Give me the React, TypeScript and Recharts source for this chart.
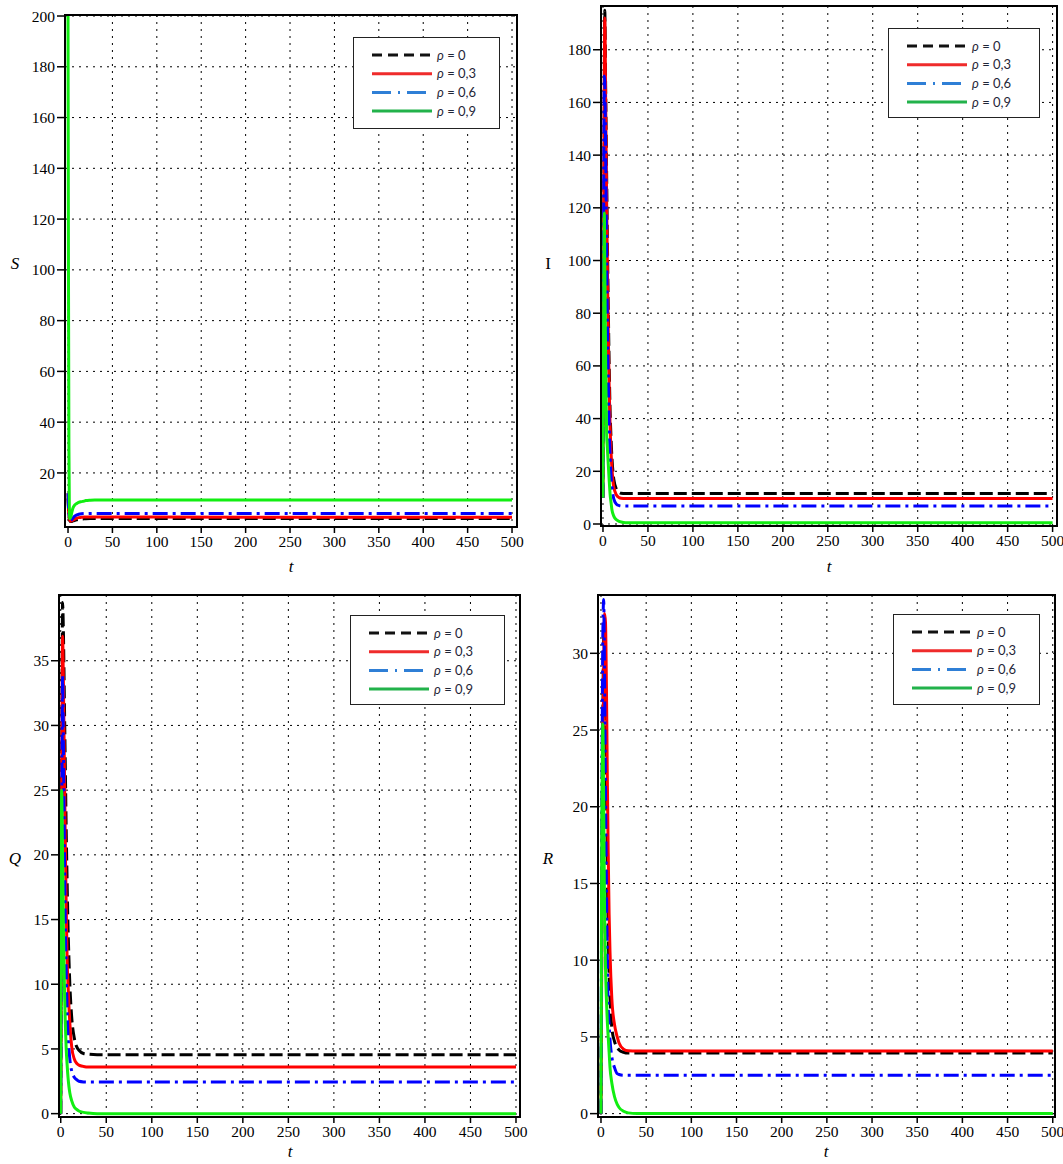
import React from 'react'
import { LineChart, Line, XAxis, YAxis, CartesianGrid } from 'recharts'

// shared time grid (t)
const T = [0, 0.5, 1, 1.5, 2, 3, 4, 5, 6, 7, 8, 9, 10, 12, 15, 18, 20, 25, 30, 40, 100, 500]
const X_TICKS = [0, 50, 100, 150, 200, 250, 300, 350, 400, 450, 500]

// S(t) for rho = 0, 0.3, 0.6, 0.9
const S_RHO0 = [10, 6, 3, 1.8, 1.2, 0.9, 0.9, 1, 1.1, 1.2, 1.35, 1.45, 1.55, 1.7, 1.85, 1.9, 1.95, 2, 2, 2, 2, 2]
const S_RHO3 = [12, 7, 4, 2.5, 1.5, 1, 1.1, 1.3, 1.5, 1.7, 1.9, 2.1, 2.2, 2.4, 2.5, 2.6, 2.6, 2.6, 2.6, 2.6, 2.6, 2.5]
const S_RHO6 = [12, 7, 4, 2.5, 1.6, 1.3, 1.6, 2, 2.4, 2.8, 3.1, 3.3, 3.5, 3.7, 3.9, 4, 4, 4.05, 4.05, 4.05, 4.05, 4]
const S_RHO9 = [200, 100, 30, 6, 2, 2.5, 4, 5.5, 6.5, 7.1, 7.5, 7.8, 8, 8.4, 8.7, 8.9, 9.1, 9.25, 9.3, 9.3, 9.3, 9.3]

// I(t)
const I_RHO0 = [10, 70, 120, 165, 195, 165, 135, 105, 80, 58, 42, 32, 25, 17, 13.2, 12, 11.7, 11.6, 11.6, 11.6, 11.6, 11.6]
const I_RHO3 = [10, 75, 130, 170, 192, 160, 125, 95, 70, 50, 36, 27, 21, 14, 11, 10, 9.8, 9.7, 9.7, 9.7, 9.7, 9.7]
const I_RHO6 = [10, 80, 140, 170, 168, 140, 105, 75, 52, 36, 25, 18, 14, 9.5, 7.5, 7, 6.85, 6.8, 6.8, 6.8, 6.8, 6.8]
const I_RHO9 = [10, 60, 100, 118, 100, 60, 35, 28, 22, 16, 11, 8, 5.3, 3, 1.6, 1, 0.8, 0.5, 0.5, 0.5, 0.5, 0.5]

// Q(t)
const Q_RHO0 = [0, 12, 25, 33, 39.5, 37, 32, 27, 22, 18, 14.5, 12, 10, 7.5, 5.8, 5.1, 4.9, 4.65, 4.6, 4.56, 4.56, 4.56]
const Q_RHO3 = [0, 11, 22, 31, 36.9, 33, 27, 21, 16, 12, 10, 8.3, 7, 5.2, 4.2, 3.85, 3.75, 3.65, 3.6, 3.6, 3.6, 3.6]
const Q_RHO6 = [0, 10, 20, 28, 33.9, 28, 21, 15, 11, 8, 6, 5, 4.2, 3.3, 2.8, 2.6, 2.5, 2.45, 2.44, 2.44, 2.44, 2.44]
const Q_RHO9 = [0, 15, 25, 23, 20, 14, 10, 7, 5, 3.8, 2.8, 2.1, 1.6, 1, 0.5, 0.3, 0.2, 0.1, 0.05, 0, 0, 0]

// R(t)
const R_RHO0 = [0, 7, 14, 20, 25, 31, 32, 28, 22, 16, 12, 9, 7.5, 5.6, 4.7, 4.3, 4.15, 4, 3.95, 3.95, 3.95, 3.95]
const R_RHO3 = [0, 6, 12, 17, 22, 29, 32.6, 32, 28, 22, 17, 13, 10.5, 7.5, 5.8, 5, 4.6, 4.2, 4.1, 4.08, 4.08, 4.08]
const R_RHO6 = [0, 10, 20, 26, 31, 33.5, 28, 21, 15, 10, 7, 5.8, 4.8, 3.7, 3, 2.6, 2.55, 2.5, 2.5, 2.5, 2.5, 2.5]
const R_RHO9 = [0, 12, 20, 23, 25.4, 20, 13, 9.5, 7.5, 6, 5, 4, 3, 2, 1.1, 0.6, 0.4, 0.15, 0.05, 0, 0, 0]

const RHO_LABELS = ['0', '0,3', '0,6', '0,9']

const SERIES = [
  { key: 'r0', color: '#000000', legendColor: '#111111', dash: '13 5', legendDash: '10 6' },
  { key: 'r3', color: '#ff0000', legendColor: '#ef2b2b', dash: undefined, legendDash: undefined },
  { key: 'r6', color: '#0000ff', legendColor: '#2f7fd6', dash: '15 5 3 5', legendDash: '19 7 2 7' },
  { key: 'r9', color: '#11ee11', legendColor: '#22b24b', dash: undefined, legendDash: undefined },
]

const SERIF = '"Liberation Serif", "Times New Roman", serif'

function rows(cols: number[][]) {
  return T.map((t, i) => ({ t, r0: cols[0][i], r3: cols[1][i], r6: cols[2][i], r9: cols[3][i] }))
}

const PANELS = [
  {
    id: 'S', left: 0, top: 0, width: 531, height: 560,
    margin: { top: 15, right: 14, bottom: 3, left: 0 }, yWidth: 65,
    xDomain: [-3.4, 505.6], yDomain: [-1.3, 200.4],
    yTicks: [20, 40, 60, 80, 100, 120, 140, 160, 180, 200],
    data: rows([S_RHO0, S_RHO3, S_RHO6, S_RHO9]),
    yLabel: { text: 'S', x: 15, y: 265, italic: true },
    tLabel: { x: 291, y: 568 },
    legend: { x: 353, y: 37, w: 147, h: 92 },
  },
  {
    id: 'I', left: 531, top: 0, width: 532, height: 560,
    margin: { top: 6, right: 6, bottom: 4, left: 0 }, yWidth: 70,
    xDomain: [-2.2, 504.9], yDomain: [-0.76, 196.6],
    yTicks: [0, 20, 40, 60, 80, 100, 120, 140, 160, 180],
    data: rows([I_RHO0, I_RHO3, I_RHO6, I_RHO9]),
    yLabel: { text: 'I', x: 17, y: 265, italic: false },
    tLabel: { x: 298, y: 568 },
    legend: { x: 357, y: 28, w: 152, h: 90 },
  },
  {
    id: 'Q', left: 0, top: 560, width: 531, height: 604,
    margin: { top: 35, right: 11, bottom: 17, left: 0 }, yWidth: 59,
    xDomain: [-1.9, 504.4], yDomain: [-0.26, 40.08],
    yTicks: [0, 5, 10, 15, 20, 25, 30, 35],
    data: rows([Q_RHO0, Q_RHO3, Q_RHO6, Q_RHO9]),
    yLabel: { text: 'Q', x: 15, y: 300, italic: true },
    tLabel: { x: 290, y: 593 },
    legend: { x: 350, y: 55, w: 155, h: 90 },
  },
  {
    id: 'R', left: 531, top: 560, width: 532, height: 604,
    margin: { top: 35, right: 8, bottom: 17, left: 0 }, yWidth: 67,
    xDomain: [-3.3, 502.5], yDomain: [-0.22, 33.8],
    yTicks: [0, 5, 10, 15, 20, 25, 30],
    data: rows([R_RHO0, R_RHO3, R_RHO6, R_RHO9]),
    yLabel: { text: 'R', x: 17, y: 300, italic: true },
    tLabel: { x: 295, y: 593 },
    legend: { x: 362, y: 54, w: 147, h: 91 },
  },
]

function XTick({ x, y, payload }: any) {
  return (
    <text x={x} y={y} dy="0.72em" textAnchor="middle" fontFamily={SERIF} fontSize={15.5} fill="#000">
      {payload.value}
    </text>
  )
}

function YTick({ x, y, payload }: any) {
  return (
    <text x={x} y={y} dy="0.36em" textAnchor="end" fontFamily={SERIF} fontSize={15.5} fill="#000">
      {payload.value}
    </text>
  )
}

function LegendBox({ x, y, w, h }: { x: number; y: number; w: number; h: number }) {
  return (
    <div style={{ position: 'absolute', left: x, top: y, width: w, height: h, border: '1px solid #222', background: '#fff', boxSizing: 'border-box' }}>
      <svg width={w - 2} height={h - 2} style={{ display: 'block' }}>
        {SERIES.map((s, i) => {
          const cy = 17 + i * 18.7
          return (
            <g key={s.key}>
              <line x1={18} x2={78} y1={cy} y2={cy} stroke={s.legendColor} strokeWidth={3} strokeDasharray={s.legendDash} />
              <text x={83} y={cy + 4.5} fontSize={13} fill="#1f2638" fontFamily='Lato, "Open Sans", sans-serif'>
                <tspan fontStyle="italic">ρ</tspan> = {RHO_LABELS[i]}
              </text>
            </g>
          )
        })}
      </svg>
    </div>
  )
}

function Panel({ p }: { p: (typeof PANELS)[number] }) {
  const plotL = p.margin.left + p.yWidth
  const plotT = p.margin.top
  const plotW = p.width - plotL - p.margin.right
  const plotH = p.height - p.margin.top - p.margin.bottom - 30
  return (
    <div style={{ position: 'absolute', left: p.left, top: p.top, width: p.width, height: p.height }}>
      <LineChart width={p.width} height={p.height} data={p.data} margin={p.margin} style={{ fontFamily: SERIF }}>
        <CartesianGrid stroke="#000" strokeDasharray="2 5" strokeWidth={1} />
        <XAxis
          dataKey="t"
          type="number"
          domain={p.xDomain}
          ticks={X_TICKS}
          interval={0}
          allowDataOverflow
          axisLine={false}
          tickLine={{ stroke: '#000', strokeWidth: 1.5 }}
          tickSize={6}
          tickMargin={3}
          height={30}
          tick={<XTick />}
        />
        <YAxis
          type="number"
          domain={p.yDomain}
          ticks={p.yTicks}
          interval={0}
          allowDataOverflow
          axisLine={false}
          tickLine={{ stroke: '#000', strokeWidth: 1.5 }}
          tickSize={8}
          tickMargin={2}
          width={p.yWidth}
          tick={<YTick />}
        />
        {SERIES.map((s) => (
          <Line
            key={s.key}
            dataKey={s.key}
            type="monotone"
            stroke={s.color}
            strokeWidth={3}
            strokeDasharray={s.dash}
            dot={false}
            isAnimationActive={false}
          />
        ))}
      </LineChart>
      <div
        style={{
          position: 'absolute', left: plotL - 1, top: plotT - 1, width: plotW + 2, height: plotH + 2,
          border: '2px solid #000', boxSizing: 'border-box', pointerEvents: 'none',
        }}
      />
      <div style={{ position: 'absolute', left: p.yLabel.x - 10, top: p.yLabel.y - 11, width: 20, textAlign: 'center', fontFamily: SERIF, fontSize: 17, fontStyle: p.yLabel.italic ? 'italic' : 'normal' }}>
        {p.yLabel.text}
      </div>
      <div style={{ position: 'absolute', left: p.tLabel.x - 10, top: p.tLabel.y - 11, width: 20, textAlign: 'center', fontFamily: SERIF, fontSize: 17, fontStyle: 'italic' }}>
        t
      </div>
      <LegendBox {...p.legend} />
    </div>
  )
}

export default function App() {
  return (
    <div style={{ position: 'absolute', left: 0, top: 0, width: 1063, height: 1164, background: '#fff' }}>
      {PANELS.map((p) => (
        <Panel key={p.id} p={p} />
      ))}
    </div>
  )
}
